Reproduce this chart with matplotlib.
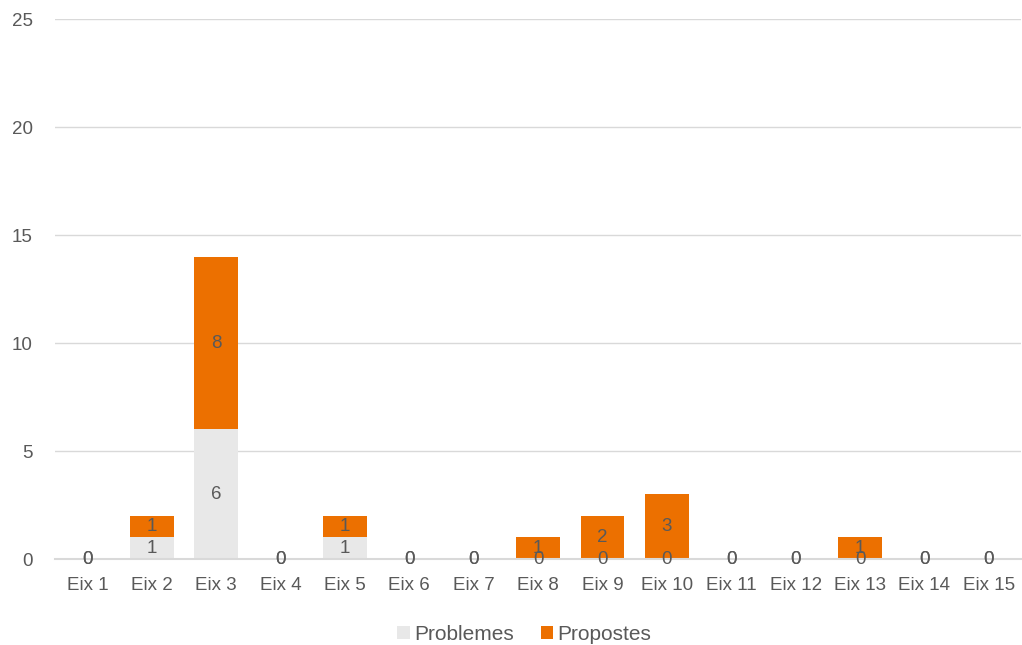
import numpy as np
import matplotlib
matplotlib.use('Agg')
import matplotlib.pyplot as plt

plt.rcParams['font.family'] = ['Liberation Sans', 'DejaVu Sans']

# Dades
eixos = ['Eix %d' % i for i in range(1, 16)]
problemes = [0, 1, 6, 0, 1, 0, 0, 0, 0, 0, 0, 0, 0, 0, 0]
propostes = [0, 1, 8, 0, 1, 0, 0, 1, 2, 3, 0, 0, 1, 0, 0]

color_prob = '#E8E8E8'
color_prop = '#EC7000'
color_text = '#595959'
fs = 13.5

fig = plt.figure(figsize=(10.22, 6.45), dpi=100)
ax = fig.add_axes([0.054, 0.1333, 0.945, 0.8372])

x = np.arange(len(eixos))
w = 0.68
b1 = ax.bar(x, problemes, w, color=color_prob, label='Problemes', zorder=2)
b2 = ax.bar(x, propostes, w, bottom=problemes, color=color_prop, label='Propostes', zorder=2)

# Etiquetes de dades al centre de cada segment
for i in range(len(eixos)):
    ax.text(x[i], problemes[i] / 2, str(problemes[i]), ha='center', va='center',
            fontsize=fs, color=color_text, zorder=3)
    ax.text(x[i], problemes[i] + propostes[i] / 2, str(propostes[i]), ha='center', va='center',
            fontsize=fs, color=color_text, zorder=3)

ax.set_ylim(0, 25)
ax.set_yticks([0, 5, 10, 15, 20, 25])
ax.set_xlim(-0.5, len(eixos) - 0.5)
ax.set_xticks(x)
ax.set_xticklabels(eixos)
ax.yaxis.grid(True, color='#D9D9D9', linewidth=1, zorder=0)
ax.set_axisbelow(True)
for s in ['top', 'right', 'left']:
    ax.spines[s].set_visible(False)
ax.spines['bottom'].set_color('#D9D9D9')
ax.spines['bottom'].set_linewidth(1.5)
ax.tick_params(axis='both', length=0, labelsize=fs, colors=color_text)
ax.tick_params(axis='x', pad=13)
ax.tick_params(axis='y', pad=16)

leg = fig.legend(handles=[b1, b2], loc='center', ncol=2,
                 frameon=False, fontsize=15, handlelength=0.6, handleheight=0.6,
                 handletextpad=0.2, columnspacing=1.3)
leg.set_bbox_to_anchor((0.513, 1 - 634 / 645), transform=fig.transFigure)
for t in leg.get_texts():
    t.set_color(color_text)

fig.savefig('out.png', dpi=100)
